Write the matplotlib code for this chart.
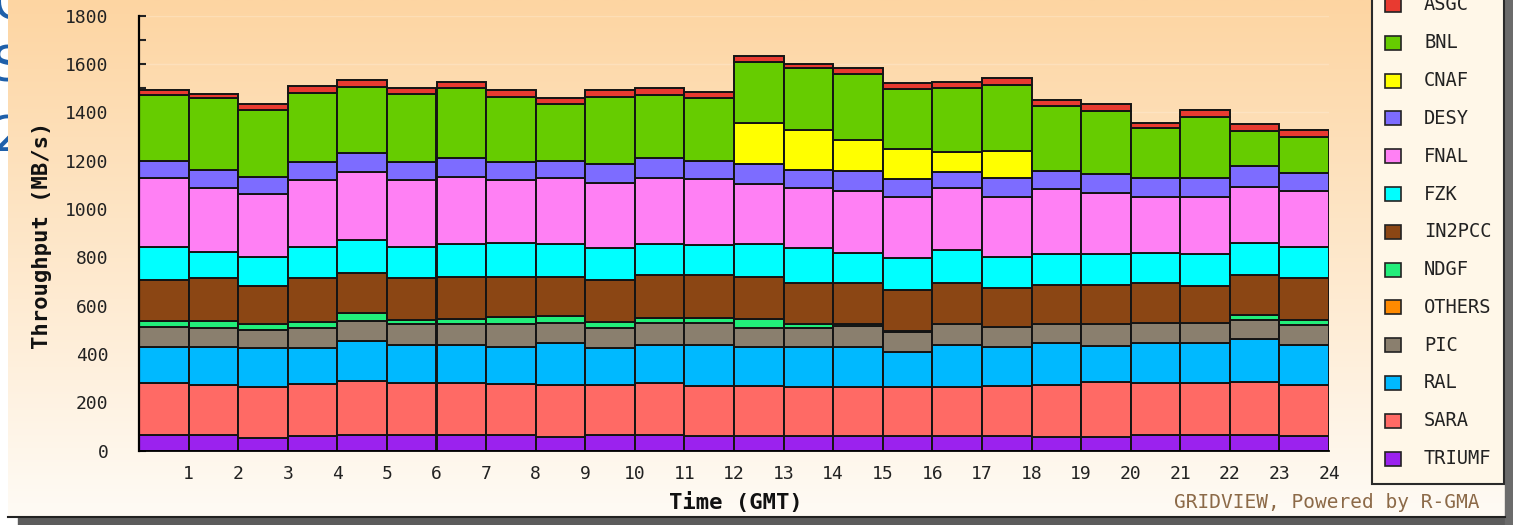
import numpy as np
import matplotlib
matplotlib.use("Agg")
import matplotlib.pyplot as plt
from matplotlib.patches import Rectangle
from matplotlib.ticker import MultipleLocator

plt.rcParams["font.family"] = ["DejaVu Sans Mono"]

W, H = 1513, 525

# hourly throughput per site (MB/s), hours 0..23
hours = np.arange(24)
TRIUMF = [65, 65, 51, 61, 65, 65, 65, 65, 58, 65, 65, 61, 61, 61, 61, 61, 61, 61, 58, 58, 65, 65, 65, 61]
SARA = [214, 207, 214, 213, 225, 214, 216, 211, 214, 207, 216, 208, 208, 204, 204, 204, 201, 208, 214, 228, 214, 214, 221, 211]
RAL = [151, 158, 158, 149, 165, 158, 156, 154, 172, 151, 156, 168, 159, 165, 165, 143, 176, 161, 175, 147, 165, 165, 175, 165]
PIC = [83, 79, 76, 86, 83, 86, 86, 93, 86, 83, 93, 93, 81, 76, 87, 82, 85, 83, 76, 90, 83, 83, 80, 83]
OTHERS = [0, 0, 0, 0, 0, 0, 0, 0, 0, 0, 0, 0, 0, 0, 0, 4, 0, 0, 0, 0, 0, 0, 0, 0]
NDGF = [24, 28, 24, 25, 30, 18, 20, 31, 29, 28, 20, 20, 34, 17, 7, 0, 0, 0, 0, 0, 0, 0, 20, 21]
IN2PCC = [169, 176, 158, 179, 169, 172, 177, 166, 161, 172, 177, 177, 177, 172, 171, 170, 173, 159, 163, 163, 165, 154, 166, 172]
FZK = [138, 108, 122, 131, 135, 131, 134, 141, 134, 131, 127, 124, 134, 142, 124, 134, 135, 131, 126, 126, 127, 131, 134, 131]
FNAL = [283, 265, 259, 276, 280, 276, 280, 259, 273, 269, 273, 273, 248, 249, 257, 252, 256, 248, 271, 256, 232, 239, 231, 232]
DESY = [73, 75, 72, 73, 81, 73, 76, 73, 73, 80, 83, 76, 83, 75, 81, 76, 68, 76, 76, 75, 76, 76, 86, 74]
CNAF = [0, 0, 0, 0, 0, 0, 0, 0, 0, 0, 0, 0, 172, 166, 129, 124, 79, 114, 0, 0, 0, 0, 0, 0]
BNL = [273, 297, 276, 288, 273, 281, 289, 272, 233, 279, 262, 258, 250, 255, 273, 248, 266, 272, 267, 264, 207, 255, 146, 150]
ASGC = [19, 18, 24, 28, 28, 25, 28, 27, 25, 27, 27, 25, 26, 17, 23, 24, 24, 28, 25, 26, 23, 28, 26, 27]

# bottom -> top stacking order
stack = [
    ("TRIUMF", TRIUMF, "#9b22ee"),
    ("SARA", SARA, "#ff6a65"),
    ("RAL", RAL, "#00b9ff"),
    ("PIC", PIC, "#8a7f6e"),
    ("OTHERS", OTHERS, "#ff8a00"),
    ("NDGF", NDGF, "#22ee7a"),
    ("IN2PCC", IN2PCC, "#8b4614"),
    ("FZK", FZK, "#00ffff"),
    ("FNAL", FNAL, "#ff80f4"),
    ("DESY", DESY, "#7d6cff"),
    ("CNAF", CNAF, "#ffff00"),
    ("BNL", BNL, "#66cc00"),
    ("ASGC", ASGC, "#e83a30"),
]

fig = plt.figure(figsize=(W / 100, H / 100), dpi=100, facecolor="white")

# background layer in pixel coordinates
bg = fig.add_axes([0, 0, 1, 1], zorder=0)
bg.set_xlim(0, W)
bg.set_ylim(H, 0)
bg.axis("off")

# slide text peeking out on the left edge (cut off in the original screenshot)
for txt, yc in [("C", 6), ("S", 67), ("2", 137)]:
    bg.text(-8, yc, txt, fontsize=36, color="#1f60aa", ha="left", va="center",
            family="DejaVu Sans", zorder=0.5)

top_c = np.array([253, 213, 162]) / 255
bot_c = np.array([255, 251, 245]) / 255
t = np.linspace(0, 1, 256)[:, None, None]
grad = top_c * (1 - t) + bot_c * t
bg.imshow(grad, extent=[8, 1505, 517, 0], aspect="auto", zorder=1)

bg.add_patch(Rectangle((18, 517), W - 18, 8, color="#5c5c5c", zorder=2))
bg.plot([8, 1505], [517, 517], color="#222222", lw=1.5, zorder=3)
bg.add_patch(Rectangle((1505, 0), 8, H, color="#6b6b6b", zorder=2))

# main chart
ax = fig.add_axes([139 / W, (H - 450.7) / H, (1329 - 139) / W, (450.7 - 15.7) / H], zorder=2)
ax.patch.set_alpha(0)

for yv in range(200, 1801, 200):
    ax.axhline(yv, color="white", alpha=0.2, lw=1, zorder=0)

bottom = np.zeros(24)
for name, vals, col in stack:
    vals = np.array(vals, dtype=float)
    ax.bar(hours, vals, width=1, bottom=bottom, align="edge", color=col,
           edgecolor="#141414", linewidth=1.4, zorder=2)
    bottom += vals

ax.set_xlim(0, 24)
ax.set_ylim(0, 1800)
ax.set_xticks(range(1, 25))
ax.set_xticklabels([str(i) for i in range(1, 25)])
ax.yaxis.set_major_locator(MultipleLocator(200))
ax.yaxis.set_minor_locator(MultipleLocator(100))
ax.tick_params(axis="x", length=0, pad=10, labelsize=13, colors="#222222")
ax.tick_params(axis="y", which="both", direction="in", length=5, width=1.5,
               pad=22, labelsize=13, colors="#222222")
for s in ("top", "right"):
    ax.spines[s].set_visible(False)
ax.spines["left"].set_linewidth(1.6)
ax.spines["bottom"].set_linewidth(1.3)

fig.text(42 / W, 1 - 235 / H, "Throughput (MB/s)", rotation=90, ha="center", va="center",
         fontsize=16, fontweight="bold", color="#111111")
fig.text(736 / W, 1 - 502 / H, "Time (GMT)", ha="center", va="center",
         fontsize=16, fontweight="bold", color="#111111")

# legend box
bg.add_patch(Rectangle((1372, -10), 132, 494, facecolor="#fff7e8", edgecolor="#2a2a2a",
                       lw=1.5, zorder=4))
for i, (name, vals, col) in enumerate(sorted(stack, key=lambda s: s[0])):
    yc = 5 + 37.8 * i
    bg.add_patch(Rectangle((1385, yc - 7), 16, 14, facecolor=col, edgecolor="#222222",
                           lw=1.2, zorder=5))
    bg.text(1424, yc, name, fontsize=13.5, ha="left", va="center", color="#222222", zorder=5)

bg.text(1480, 503, "GRIDVIEW, Powered by R-GMA", fontsize=14, ha="right", va="center",
        color="#8c6a48", zorder=5)

fig.savefig("out.png", dpi=100, facecolor="white")
